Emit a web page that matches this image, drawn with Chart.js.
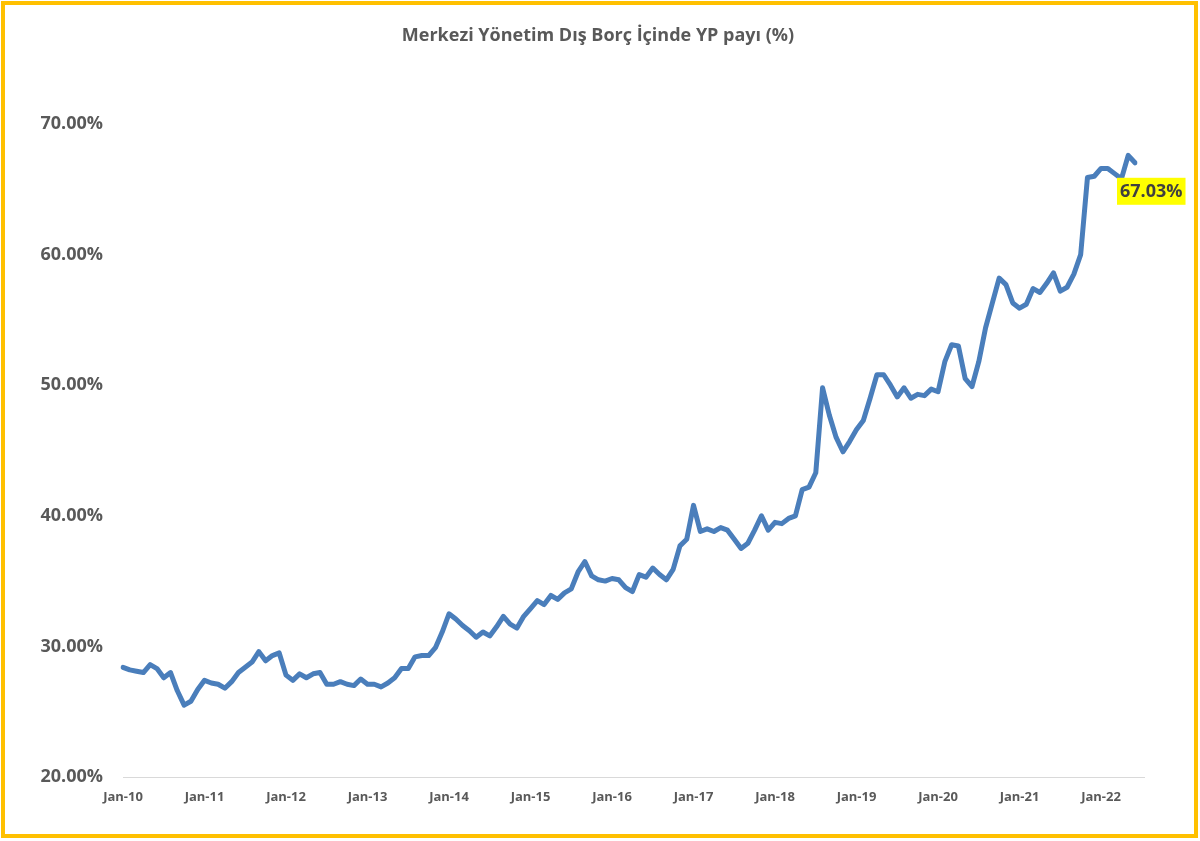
<!DOCTYPE html>
<html>
<head>
<meta charset="utf-8">
<script src="https://cdn.jsdelivr.net/npm/chart.js@4"></script>
<style>
html,body{margin:0;padding:0;background:#fff;}
#wrap{position:absolute;left:0;top:0;width:1200px;height:841px;}
</style>
</head>
<body>
<div id="wrap"><canvas id="c" width="1200" height="841"></canvas></div>
<script>
// ---- data ----
const startYear = 2010;
const monthNames = ['Jan','Feb','Mar','Apr','May','Jun','Jul','Aug','Sep','Oct','Nov','Dec'];
const tickLabels = ['Jan-10','Jan-11','Jan-12','Jan-13','Jan-14','Jan-15','Jan-16','Jan-17','Jan-18','Jan-19','Jan-20','Jan-21','Jan-22'];
const fxShare = [
  28.4,28.2,28.1,28.0,28.6,28.3,27.6,28.0,26.6,25.5,25.8,26.7,
  27.4,27.2,27.1,26.8,27.3,28.0,28.4,28.8,29.6,28.9,29.3,29.5,
  27.8,27.4,27.9,27.6,27.9,28.0,27.1,27.1,27.3,27.1,27.0,27.5,
  27.1,27.1,26.9,27.2,27.6,28.3,28.3,29.2,29.3,29.3,29.9,31.1,
  32.5,32.1,31.6,31.2,30.7,31.1,30.8,31.5,32.3,31.7,31.4,32.3,
  32.9,33.5,33.2,33.9,33.6,34.1,34.4,35.7,36.5,35.4,35.1,35.0,
  35.2,35.1,34.5,34.2,35.5,35.3,36.0,35.5,35.1,35.9,37.7,38.2,
  40.8,38.8,39.0,38.8,39.1,38.9,38.2,37.5,37.9,38.9,40.0,38.9,
  39.5,39.4,39.8,40.0,42.0,42.2,43.3,49.8,47.7,46.0,44.9,45.7,
  46.6,47.3,49.0,50.8,50.8,50.0,49.1,49.8,49.0,49.3,49.2,49.7,
  49.5,51.8,53.1,53.0,50.5,49.9,51.8,54.4,56.3,58.2,57.7,56.3,
  55.9,56.2,57.4,57.1,57.8,58.6,57.2,57.5,58.5,60.0,65.9,66.0,
  66.6,66.6,66.2,65.8,67.6,67.03
];
const categories = fxShare.map((v,i)=> monthNames[i%12] + '-' + String((startYear + Math.floor(i/12))%100).padStart(2,'0'));
const titleText = 'Merkezi Yönetim Dış Borç İçinde YP payı (%)';
const lastLabel = '67.03%';

const FONT = '"Open Sans", "DejaVu Sans", sans-serif';
const GREY = '#595959';

const framePlugin = {
  id: 'frame',
  beforeDraw(chart){
    const ctx = chart.ctx;
    ctx.save();
    ctx.fillStyle = '#fff';
    ctx.fillRect(0,0,chart.width,chart.height);
    ctx.restore();
  },
  afterDraw(chart){
    const ctx = chart.ctx;
    ctx.save();
    // title
    ctx.fillStyle = GREY;
    ctx.font = 'bold 18px ' + FONT;
    ctx.textAlign = 'center';
    ctx.textBaseline = 'middle';
    ctx.fillText(titleText, 598, 36);
    // frame
    ctx.strokeStyle = '#FFC000';
    ctx.lineWidth = 4;
    ctx.strokeRect(3, 3, 1193, 833);
    // last value label
    const meta = chart.getDatasetMeta(0);
    const pt = meta.data[meta.data.length-1];
    ctx.font = 'bold 18px ' + FONT;
    const w = ctx.measureText(lastLabel).width + 6;
    const bx = pt.x - 18, by = pt.y + 15;
    ctx.fillStyle = '#FFFF00';
    ctx.fillRect(bx, by, w, 27);
    ctx.fillStyle = '#404040';
    ctx.textAlign = 'left';
    ctx.fillText(lastLabel, bx + 3, by + 14);
    ctx.restore();
  },
  beforeDatasetsDraw(chart){
    const ctx = chart.ctx;
    const ca = chart.chartArea;
    ctx.save();
    ctx.strokeStyle = '#d9d9d9';
    ctx.lineWidth = 1;
    ctx.beginPath();
    ctx.moveTo(ca.left, ca.bottom + 0.5);
    ctx.lineTo(ca.right + 10, ca.bottom + 0.5);
    ctx.stroke();
    ctx.restore();
  }
};

new Chart(document.getElementById('c'), {
  type: 'line',
  data: {
    labels: categories,
    datasets: [{
      data: fxShare,
      borderColor: '#4a7ebb',
      borderWidth: 5,
      pointRadius: 0,
      tension: 0,
      borderCapStyle: 'round',
      borderJoinStyle: 'round',
      fill: false
    }]
  },
  options: {
    responsive: false,
    animation: false,
    devicePixelRatio: 1,
    layout: { padding: { left: 0, right: 65, top: 124, bottom: 0 } },
    plugins: { legend: { display: false }, title: { display: false }, tooltip: { enabled: false } },
    scales: {
      x: {
        type: 'category',
        offset: false,
        grid: { display: false, drawTicks: false },
        border: { display: false },
        afterFit(scale){ scale.height = 64; },
        ticks: {
          autoSkip: false,
          maxRotation: 0,
          minRotation: 0,
          padding: 12,
          color: GREY,
          font: { family: FONT, size: 13, weight: 'bold' },
          callback(v, i){ return i % 12 === 0 ? tickLabels[i/12] : ''; }
        }
      },
      y: {
        min: 20,
        max: 70,
        grid: { display: false, drawTicks: false },
        border: { display: false },
        afterFit(scale){ scale.width = 123; },
        ticks: {
          stepSize: 10,
          padding: 20,
          color: GREY,
          font: { family: FONT, size: 18, weight: 'bold' },
          callback(v){ return v.toFixed(2) + '%'; }
        }
      }
    }
  },
  plugins: [framePlugin]
});
</script>
</body>
</html>
